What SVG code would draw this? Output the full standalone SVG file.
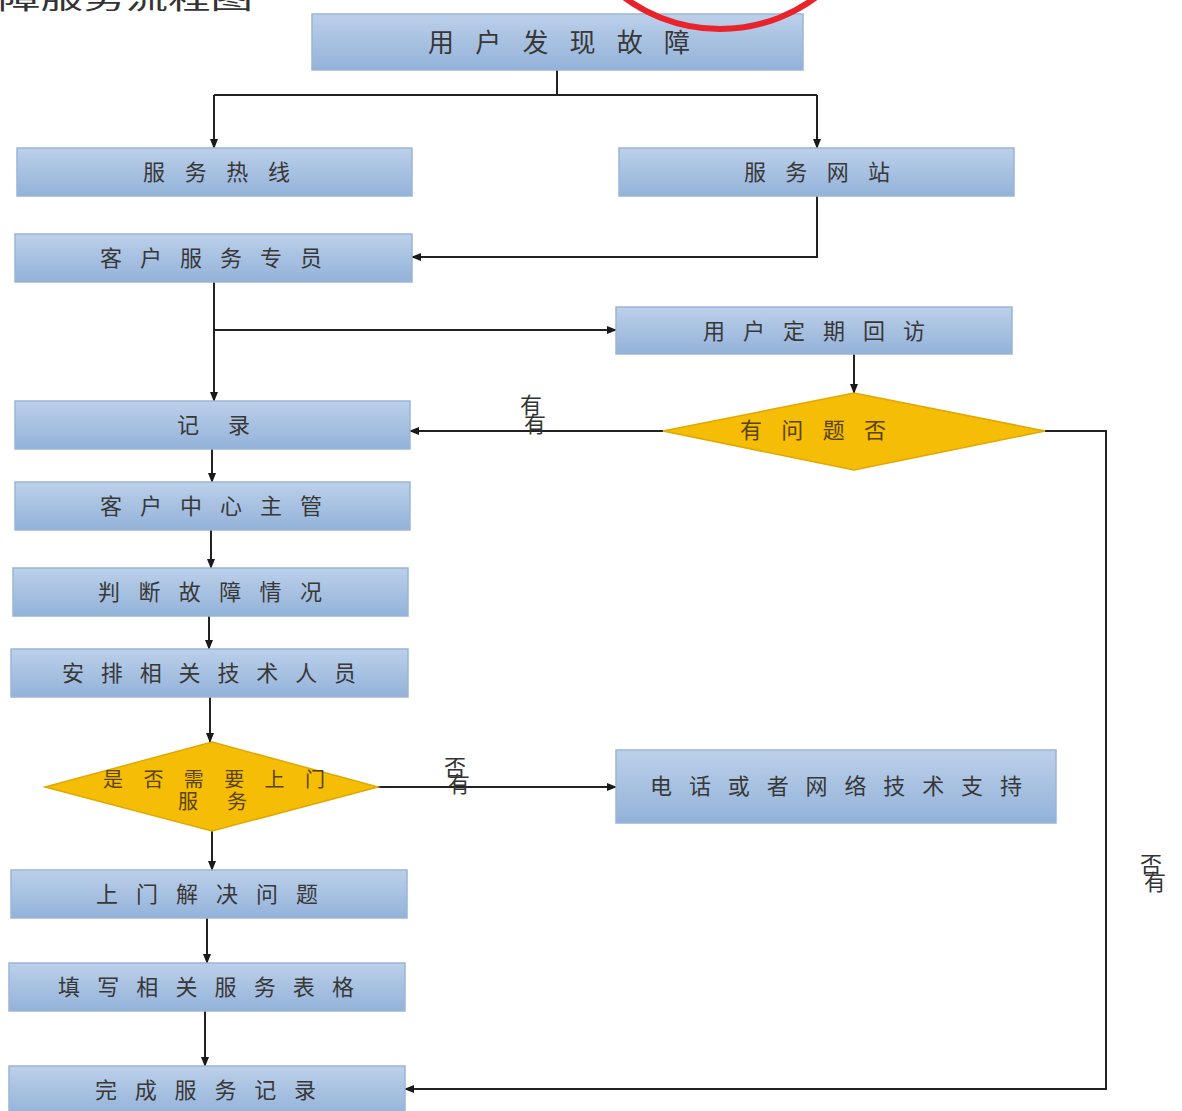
<svg xmlns="http://www.w3.org/2000/svg" width="1182" height="1111" viewBox="0 0 1182 1111">
<defs>
<linearGradient id="bg" x1="0" y1="0" x2="0" y2="1">
<stop offset="0" stop-color="#bcd0ea"/>
<stop offset="1" stop-color="#93b2d9"/>
</linearGradient>
<marker id="ah" markerWidth="10" markerHeight="10" refX="9" refY="5" orient="auto" markerUnits="userSpaceOnUse">
<path d="M0,1 L10,5 L0,9 Z" fill="#1a1a1a"/>
</marker>
</defs>
<style>
.box{fill:url(#bg);stroke:#9ab5d6;stroke-width:1.5}
.dia{fill:#f5bd05;stroke:#e0a800;stroke-width:1.5}
.t{font-family:"Noto Sans CJK SC","Noto Sans",sans-serif;font-size:22px;fill:#383838}
.dt{font-family:"Noto Sans CJK SC","Noto Sans",sans-serif;font-size:22px;fill:#5a4200}
.lb{font-family:"Noto Sans CJK SC","Noto Sans",sans-serif;font-size:22px;fill:#333}
.c{fill:none;stroke:#222;stroke-width:2}
.ca{fill:none;stroke:#222;stroke-width:2;marker-end:url(#ah)}
</style>
<rect width="1182" height="1111" fill="#ffffff"/>
<text x="-2" y="9" class="lb" style="font-size:26px" fill="#444" textLength="255" lengthAdjust="spacingAndGlyphs">障服务流程图</text>

<g id="connectors">
<path class="c" d="M557,70 V95 M214,95 H817"/>
<path class="ca" d="M214,95 V148"/>
<path class="ca" d="M817,95 V148"/>
<path class="ca" d="M817,196 V257 H412"/>
<path class="ca" d="M214,282 V401"/>
<path class="ca" d="M214,330 H616"/>
<path class="ca" d="M854,354 V393"/>
<path class="ca" d="M663,431 H410"/>
<path class="ca" d="M1045,431 H1106 V1089 H405"/>
<path class="ca" d="M212,449 V482"/>
<path class="ca" d="M211,530 V568"/>
<path class="ca" d="M209,616 V649"/>
<path class="ca" d="M210,697 V742"/>
<path class="ca" d="M378,787 H616"/>
<path class="ca" d="M212,831 V870"/>
<path class="ca" d="M207,918 V963"/>
<path class="ca" d="M205,1011 V1066"/>
<g id="label-yes">
<text x="520" y="413" class="lb">有</text>
<text x="524" y="432" class="lb">有</text>
</g>
<g id="label-no1">
<text x="444" y="775" class="lb">否</text>
<text x="448" y="792" class="lb">有</text>
</g>
<g id="label-no2">
<text x="1140" y="872" class="lb">否</text>
<text x="1144" y="890" class="lb">有</text>
</g>
</g>

<g id="n1"><rect class="box" x="312" y="14" width="491" height="56"/><text class="t" style="font-size:26px" x="428" y="52" textLength="262" lengthAdjust="spacing">用户发现故障</text></g>
<circle cx="720" cy="-132" r="161" fill="none" stroke="#e8232a" stroke-width="6"/>
<g id="n2"><rect class="box" x="17" y="148" width="395" height="48"/><text class="t" x="143" y="180" textLength="147" lengthAdjust="spacing">服务热线</text></g>
<g id="n3"><rect class="box" x="619" y="148" width="395" height="48"/><text class="t" x="744" y="180" textLength="146" lengthAdjust="spacing">服务网站</text></g>
<g id="n4"><rect class="box" x="15" y="234" width="397" height="48"/><text class="t" x="100" y="266" textLength="222" lengthAdjust="spacing">客户服务专员</text></g>
<g id="n5"><rect class="box" x="616" y="307" width="396" height="47"/><text class="t" x="703" y="339" textLength="222" lengthAdjust="spacing">用户定期回访</text></g>
<g id="n6"><path class="dia" d="M854,393 L1045,431 L854,470 L663,431 Z"/><text class="dt" x="740" y="438" textLength="146" lengthAdjust="spacing">有问题否</text></g>
<g id="n7"><rect class="box" x="15" y="401" width="395" height="48"/><text class="t" x="177" y="433" textLength="73" lengthAdjust="spacing">记录</text></g>
<g id="n8"><rect class="box" x="15" y="482" width="395" height="48"/><text class="t" x="100" y="514" textLength="222" lengthAdjust="spacing">客户中心主管</text></g>
<g id="n9"><rect class="box" x="13" y="568" width="395" height="48"/><text class="t" x="98" y="600" textLength="224" lengthAdjust="spacing">判断故障情况</text></g>
<g id="n10"><rect class="box" x="11" y="649" width="397" height="48"/><text class="t" x="62" y="681" textLength="294" lengthAdjust="spacing">安排相关技术人员</text></g>
<g id="n11"><path class="dia" d="M212,742 L378,787 L212,831 L45,787 Z"/><text class="dt" style="font-size:20px" x="103" y="787" textLength="222" lengthAdjust="spacing">是否需要上门</text><text class="dt" style="font-size:20px" x="178" y="809" textLength="69" lengthAdjust="spacing">服务</text></g>
<g id="n12"><rect class="box" x="616" y="750" width="440" height="73"/><text class="t" x="650" y="794" textLength="372" lengthAdjust="spacing">电话或者网络技术支持</text></g>
<g id="n13"><rect class="box" x="11" y="870" width="396" height="48"/><text class="t" x="96" y="902" textLength="222" lengthAdjust="spacing">上门解决问题</text></g>
<g id="n14"><rect class="box" x="9" y="963" width="396" height="48"/><text class="t" x="58" y="995" textLength="296" lengthAdjust="spacing">填写相关服务表格</text></g>
<g id="n15"><rect class="box" x="9" y="1066" width="396" height="50"/><text class="t" x="95" y="1098" textLength="221" lengthAdjust="spacing">完成服务记录</text></g>
</svg>
